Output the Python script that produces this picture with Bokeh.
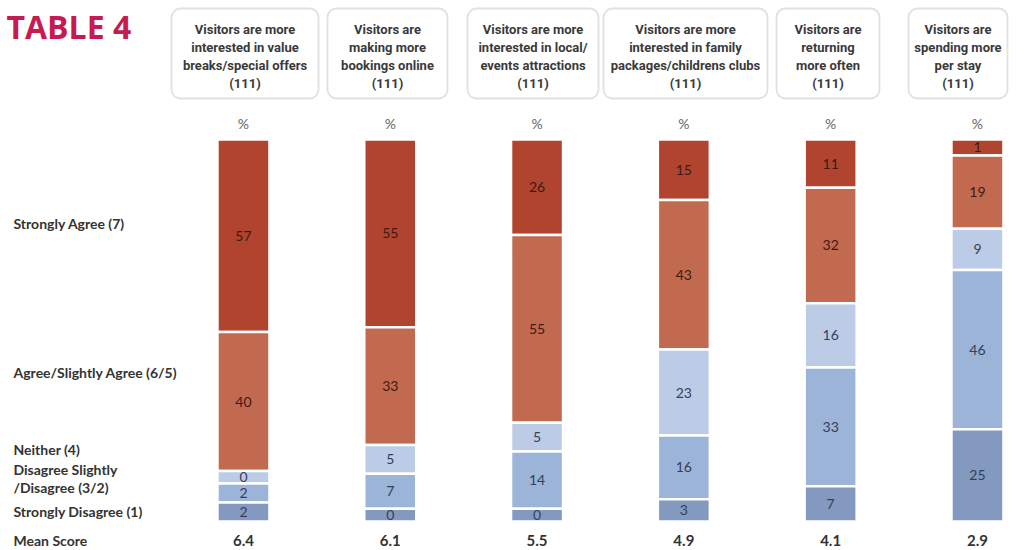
from bokeh.plotting import figure
from bokeh.models import Range1d, ColumnDataSource, BoxAnnotation
from bokeh.core.properties import value
from bokeh.embed import file_html
from bokeh.resources import INLINE

# ---------------- data ----------------
title = "TABLE 4"
headers = [
    "Visitors are more\ninterested in value\nbreaks/special offers\n(111)",
    "Visitors are\nmaking more\nbookings online\n(111)",
    "Visitors are more\ninterested in local/\nevents attractions\n(111)",
    "Visitors are more\ninterested in family\npackages/childrens clubs\n(111)",
    "Visitors are\nreturning\nmore often\n(111)",
    "Visitors are\nspending more\nper stay\n(111)",
]
levels = [
    "Strongly Agree (7)",
    "Agree/Slightly Agree (6/5)",
    "Neither (4)",
    "Disagree Slightly\n/Disagree (3/2)",
    "Strongly Disagree (1)",
]
strongly_agree = [57, 55, 26, 15, 11, 1]
agree = [40, 33, 55, 43, 32, 19]
neither = [0, 5, 5, 23, 16, 9]
disagree = [2, 7, 14, 16, 33, 46]
strongly_disagree = [2, 0, 0, 3, 7, 25]
mean_score = ["6.4", "6.1", "5.5", "4.9", "4.1", "2.9"]
mean_label = "Mean Score"
pct_label = "%"

# ---------------- style / layout ----------------
W, H = 1027, 550
seg_colors = ["#b0442f", "#c26a50", "#bccce6", "#9bb4d7", "#8499c0"]
num_colors = ["#3e1a12", "#3e1a12", "#34405a", "#34405a", "#34405a"]
MIN_SHARE = 4.0          # visual floor so small/zero segments stay visible
PX_PER_COL = 146.8
X0 = -1.655
BAR_TOP_PX, BAR_BOT_PX = 139, 521
PX_PER_PCT = (BAR_BOT_PX - BAR_TOP_PX) / 100.0

def xd(px):
    return px / PX_PER_COL + X0

def yd(px):
    return (BAR_BOT_PX - px) / PX_PER_PCT

LABEL_FONT = value("Lato")
HEAD_FONT = value("Roboto")

p = figure(width=W, height=H, output_backend="svg", toolbar_location=None,
           x_range=Range1d(xd(0), xd(W)), y_range=Range1d(yd(H), yd(0)),
           min_border=0, outline_line_color=None, background_fill_color="white")
p.axis.visible = False
p.grid.visible = False

# ---------------- header boxes (drawn underneath text) ----------------
box_px = [(171, 318), (327, 447), (467, 598), (603, 767), (776, 879), (908, 1007)]
for (l, r) in box_px:
    p.add_layout(BoxAnnotation(left=xd(l), right=xd(r), top=yd(8), bottom=yd(98),
                               fill_color=None, fill_alpha=0.0,
                               line_color="#9c9c9c", line_width=1.8,
                               border_radius=9, level="underlay"))

# ---------------- stacked bars ----------------
series = [strongly_agree, agree, neither, disagree, strongly_disagree]
xs, bots, tops, cols, txt, tcol, ty = [], [], [], [], [], [], []
for i in range(len(headers)):
    vals = [s[i] for s in series]
    disp = [v + MIN_SHARE for v in vals]
    tot = sum(disp)
    shares = [d / tot * 100 for d in disp]
    top = 100.0
    for j, (v, sh) in enumerate(zip(vals, shares)):
        bot = top - sh
        xs.append(i); tops.append(top); bots.append(bot)
        cols.append(seg_colors[j]); txt.append(str(v)); tcol.append(num_colors[j])
        ty.append((top + bot) / 2)
        top = bot

src = ColumnDataSource(dict(x=xs, top=tops, bottom=bots, color=cols,
                            label=txt, tcolor=tcol, ty=ty))
p.vbar(x="x", top="top", bottom="bottom", width=52 / PX_PER_COL, source=src,
       fill_color="color", line_color="white", line_width=2.5)
p.text(x="x", y="ty", text="label", source=src, text_color="tcolor",
       text_font=LABEL_FONT, text_font_size="14px", text_align="center",
       text_baseline="middle")

# percent signs
p.text(x=list(range(len(headers))), y=[yd(123)] * len(headers),
       text=[pct_label] * len(headers), text_font=LABEL_FONT,
       text_font_size="14px", text_color="#666666", text_align="center",
       text_baseline="middle")

# mean scores
p.text(x=list(range(len(headers))), y=[yd(540)] * len(headers), text=mean_score,
       text_font=LABEL_FONT, text_font_size="15px", text_font_style="bold",
       text_color="#333333", text_align="center", text_baseline="middle")

# header texts
p.text(x=[xd((l + r) / 2) for l, r in box_px], y=[yd(56)] * len(headers),
       text=headers, text_font=HEAD_FONT, text_font_size="13px",
       text_font_style="bold", text_color="#3a3a3a", text_align="center",
       text_baseline="middle", text_line_height=1.2)

# ---------------- row labels ----------------
row_y_px = [223, 372, 449, 478, 511]
p.text(x=[xd(13)] * len(levels), y=[yd(v) for v in row_y_px], text=levels,
       text_font=LABEL_FONT, text_font_size="14px", text_font_style="bold",
       text_color="#333333", text_align="left", text_baseline="middle",
       text_line_height=1.05)
p.text(x=[xd(13)], y=[yd(540)], text=[mean_label], text_font=LABEL_FONT,
       text_font_size="14px", text_font_style="bold", text_color="#333333",
       text_align="left", text_baseline="middle")

# ---------------- title ----------------
p.text(x=[xd(6)], y=[yd(26)], text=[title], text_font=value("Open Sans"),
       text_font_size="32px", text_font_style="bold", text_color="#c71a50",
       text_align="left", text_baseline="middle")

open("out.html", "w").write(file_html(p, INLINE))
